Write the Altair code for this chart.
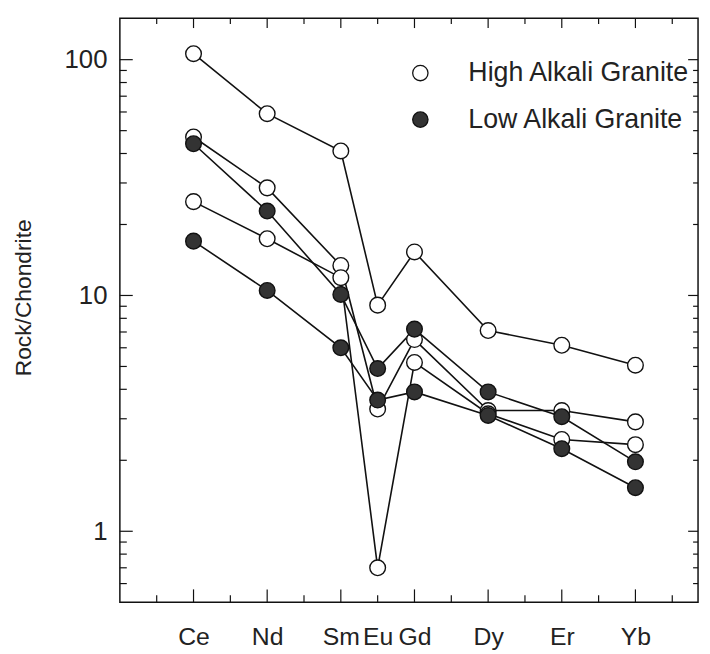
import altair as alt
import pandas as pd

# ---- data ----
elements = ["Ce", "Nd", "Sm", "Eu", "Gd", "Dy", "Er", "Yb"]
atomic_numbers = [58, 60, 62, 63, 64, 66, 68, 70]

high_alkali_1 = [106, 59, 41, 9.1, 15.3, 7.1, 6.15, 5.06]
high_alkali_2 = [47, 28.6, 13.4, 3.3, 6.5, 3.25, 3.25, 2.91]
high_alkali_3 = [25, 17.4, 11.9, 0.7, 5.2, 3.15, 2.45, 2.33]
low_alkali_1 = [44, 22.8, 10.1, 4.9, 7.2, 3.9, 3.06, 1.97]
low_alkali_2 = [17, 10.5, 6.0, 3.6, 3.9, 3.1, 2.24, 1.53]

groups = ["High Alkali Granite", "Low Alkali Granite"]
group_fills = ["white", "#333333"]

x_domain = [56.0, 71.7]
y_domain = [0.5, 150]
x_major_ticks = [58, 60, 62, 64, 66, 68, 70]
x_minor_ticks = [57, 59, 61, 63, 65, 67, 69, 71]
y_label_values = [1, 10, 100]
y_minor_ticks = [0.6, 0.7, 0.8, 0.9, 2, 3, 4, 5, 6, 7, 8, 9,
                 20, 30, 40, 50, 60, 70, 80, 90]

# ---- build tables ----
series = [
    ("H1", groups[0], high_alkali_1),
    ("H2", groups[0], high_alkali_2),
    ("H3", groups[0], high_alkali_3),
    ("L1", groups[1], low_alkali_1),
    ("L2", groups[1], low_alkali_2),
]
rows = []
for sid, grp, vals in series:
    for el, z, v in zip(elements, atomic_numbers, vals):
        rows.append({"sample": sid, "group": grp, "element": el, "z": z, "value": v})
df = pd.DataFrame(rows)

W, H = 584, 590
FONT = "Liberation Sans"

label_map = "{" + ",".join(f"'{z}':'{e}'" for z, e in zip(atomic_numbers, elements)) + "}"

x_scale = alt.Scale(domain=x_domain, nice=False, zero=False)
y_scale = alt.Scale(type="log", domain=y_domain, nice=False)

x_axis = alt.Axis(values=atomic_numbers, labelExpr=f"{label_map}[datum.value]",
                  ticks=False, domain=False, grid=False, title=None,
                  labelFontSize=25, labelPadding=23, labelOverlap=False,
                  labelFlush=False, labelFont=FONT, labelColor="#222")
y_axis = alt.Axis(values=y_label_values, format="d", ticks=False, domain=False,
                  grid=False, title="Rock/Chondrite", titleFontSize=23,
                  titleFont=FONT, titleFontWeight="normal", titleColor="#222",
                  titlePadding=29, titleY=282, labelFontSize=26, labelPadding=13,
                  labelFont=FONT, labelColor="#222", labelOverlap=False)


def X(field):
    return alt.X(field, scale=x_scale, axis=x_axis)


def Y(field):
    return alt.Y(field, scale=y_scale, axis=y_axis)


lines = alt.Chart(df).mark_line(color="#111", strokeWidth=1.6).encode(
    x=X("z:Q"), y=Y("value:Q"), detail="sample:N", order="z:Q"
)

points = alt.Chart(df).mark_point(
    filled=True, shape="circle", size=250, stroke="#111", strokeWidth=1.4, opacity=1
).encode(
    x=X("z:Q"),
    y=Y("value:Q"),
    fill=alt.Fill("group:N",
                  scale=alt.Scale(domain=groups, range=group_fills),
                  legend=alt.Legend(title=None, orient="none", legendX=290, legendY=42,
                                    symbolType="circle", symbolSize=240,
                                    symbolStrokeColor="#111", symbolStrokeWidth=1.3,
                                    labelFontSize=27, labelFont=FONT, labelColor="#222",
                                    labelLimit=500,
                                    labelOffset=35, rowPadding=19, padding=0)),
)


def xticks(vals, length, top):
    d = pd.DataFrame({"z": vals})
    if top:
        yy, yy2 = 0, length
    else:
        yy, yy2 = H, H - length
    return alt.Chart(d).mark_rule(color="#111", strokeWidth=1.2).encode(
        x=X("z:Q"), y=alt.value(yy), y2=alt.value(yy2))


def yticks(vals, length, right):
    d = pd.DataFrame({"value": vals})
    if right:
        xx, xx2 = W, W - length
    else:
        xx, xx2 = 0, length
    return alt.Chart(d).mark_rule(color="#111", strokeWidth=1.2).encode(
        y=Y("value:Q"), x=alt.value(xx), x2=alt.value(xx2))


tick_layers = [
    xticks(x_major_ticks, 13, False), xticks(x_minor_ticks, 7, False),
    xticks(x_major_ticks, 10, True), xticks(x_minor_ticks, 6, True),
    yticks(y_label_values, 13, False), yticks(y_minor_ticks, 7, False),
    yticks(y_label_values, 10, True), yticks(y_minor_ticks, 5, True),
]

chart = alt.layer(lines, *tick_layers, points).properties(
    width=W, height=H,
    autosize=alt.AutoSizeParams(type="none"),
    padding={"left": 113, "top": 7, "right": 4, "bottom": 47},
    background="white",
).configure_view(stroke="#111", strokeWidth=1.5)

chart.save("out.html", embed_options={"renderer": "svg", "actions": False})
